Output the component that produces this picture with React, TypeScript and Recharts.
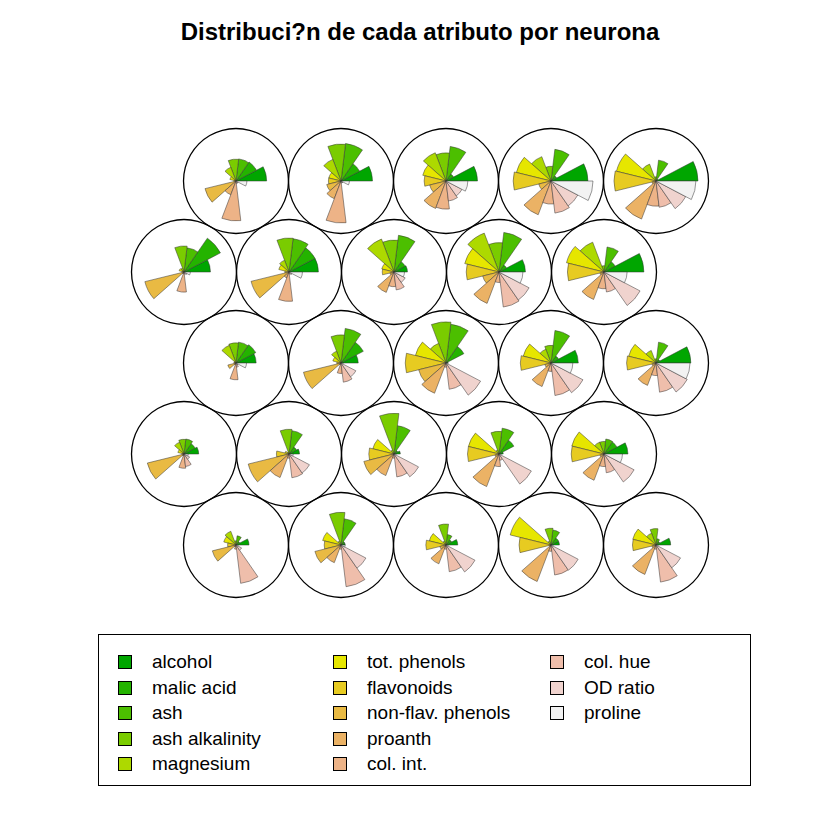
import { Pie, PieChart } from "recharts";

const attributes = [
  "alcohol", "malic acid", "ash", "ash alkalinity", "magnesium",
  "tot. phenols", "flavonoids", "non-flav. phenols", "proanth", "col. int.",
  "col. hue", "OD ratio", "proline",
];

// terrain.colors(13)
const colors = [
  "#00A600", "#24B300", "#4CBF00", "#7ACC00", "#ADD900",
  "#E6E600", "#E7CB21", "#E9BA43", "#EBB265", "#EDB387",
  "#EFBEAB", "#F0D3CE", "#F2F2F2",
];

// scaled codes (0..1) per neuron, rows top to bottom, left to right
const row1 = [
  [0.73, 0.55, 0.53, 0.52, 0.35, 0.15, 0.05, 0.76, 0.35, 0.95, 0.06, 0.06, 0.26],
  [0.75, 0.5, 0.9, 0.88, 0.55, 0.3, 0.3, 0.35, 0.45, 1.0, 0.05, 0.05, 0.2],
  [0.75, 0.2, 0.83, 0.67, 0.72, 0.57, 0.52, 0.4, 0.7, 0.67, 0.48, 0.43, 0.52],
  [0.88, 0.15, 0.76, 0.35, 0.62, 0.85, 0.9, 0.3, 0.86, 0.55, 0.77, 0.72, 1.0],
  [1.0, 0.05, 0.5, 0.1, 0.43, 0.97, 1.0, 0.1, 0.97, 0.6, 0.63, 0.8, 0.95],
];
const row2 = [
  [0.63, 0.98, 0.58, 0.62, 0.1, 0.12, 0.05, 0.96, 0.05, 0.48, 0.05, 0.08, 0.15],
  [0.7, 0.7, 0.8, 0.81, 0.3, 0.25, 0.1, 0.93, 0.15, 0.7, 0.05, 0.08, 0.32],
  [0.32, 0.3, 0.88, 0.76, 0.84, 0.3, 0.28, 0.1, 0.52, 0.35, 0.43, 0.3, 0.25],
  [0.63, 0.2, 0.95, 0.7, 0.99, 0.84, 0.78, 0.4, 0.8, 0.25, 0.84, 0.81, 0.57],
  [0.95, 0.3, 0.6, 0.15, 0.76, 0.92, 0.87, 0.1, 0.7, 0.4, 0.48, 0.97, 0.55],
];
const row3 = [
  [0.48, 0.53, 0.5, 0.48, 0.45, 0.05, 0.05, 0.2, 0.05, 0.4, 0.1, 0.05, 0.25],
  [0.41, 0.6, 0.83, 0.67, 0.3, 0.2, 0.1, 0.92, 0.05, 0.25, 0.46, 0.4, 0.05],
  [0.05, 0.48, 0.93, 0.98, 0.5, 0.75, 0.97, 0.67, 0.77, 0.1, 0.63, 0.93, 0.05],
  [0.65, 0.2, 0.78, 0.42, 0.35, 0.68, 0.73, 0.15, 0.6, 0.2, 0.78, 0.86, 0.52],
  [0.83, 0.1, 0.5, 0.1, 0.32, 0.67, 0.7, 0.1, 0.57, 0.3, 0.7, 0.84, 0.81],
];
const row4 = [
  [0.35, 0.3, 0.36, 0.35, 0.3, 0.15, 0.05, 0.9, 0.05, 0.34, 0.3, 0.15, 0.1],
  [0.25, 0.2, 0.56, 0.59, 0.05, 0.1, 0.3, 1.0, 0.6, 0.1, 0.57, 0.55, 0.1],
  [0.15, 0.1, 0.68, 0.97, 0.1, 0.52, 0.6, 0.74, 0.55, 0.1, 0.55, 0.66, 0.05],
  [0.1, 0.4, 0.62, 0.54, 0.1, 0.75, 0.75, 0.1, 0.83, 0.3, 0.15, 0.87, 0.05],
  [0.57, 0.35, 0.36, 0.3, 0.3, 0.79, 0.78, 0.1, 0.67, 0.3, 0.45, 0.81, 0.44],
];
const row5 = [
  [0.31, 0.1, 0.22, 0.1, 0.35, 0.3, 0.2, 0.58, 0.05, 0.1, 0.92, 0.15, 0.05],
  [0.1, 0.1, 0.63, 0.78, 0.1, 0.45, 0.4, 0.64, 0.45, 0.1, 1.0, 0.67, 0.1],
  [0.28, 0.15, 0.25, 0.5, 0.1, 0.41, 0.48, 0.15, 0.48, 0.1, 0.64, 0.78, 0.05],
  [0.2, 0.2, 0.36, 0.4, 0.1, 1.0, 0.76, 0.05, 0.93, 0.15, 0.72, 0.73, 0.05],
  [0.35, 0.1, 0.15, 0.39, 0.3, 0.57, 0.56, 0.1, 0.75, 0.1, 0.89, 0.66, 0.05],
];

const rows = [row1, row2, row3, row4, row5];

const FONT = '"Liberation Sans", Arial, Helvetica, sans-serif';
const UNIT = 105; // distance between neighbouring neurons
const CIRCLE_R = UNIT / 2;
const MAX_R = UNIT * 0.4;
const STEP = 360 / attributes.length;
const BOX = 112;

function Neuron({ values, cx, cy }: { values: number[]; cx: number; cy: number }) {
  return (
    <div style={{ position: "absolute", left: cx - BOX / 2, top: cy - BOX / 2 }}>
      <PieChart width={BOX} height={BOX} margin={{ top: 0, right: 0, bottom: 0, left: 0 }}>
        <Pie
          data={[{ name: "unit", value: 1 }]}
          dataKey="value"
          cx="50%"
          cy="50%"
          innerRadius={CIRCLE_R - 0.65}
          outerRadius={CIRCLE_R + 0.65}
          fill="#000"
          stroke="none"
          isAnimationActive={false}
        />
        {values.map((v, i) => (
          <Pie
            key={i}
            data={[{ name: attributes[i], value: 1 }]}
            dataKey="value"
            cx="50%"
            cy="50%"
            startAngle={i * STEP}
            endAngle={(i + 1) * STEP}
            innerRadius={0}
            outerRadius={v * MAX_R}
            fill={colors[i]}
            stroke="#333"
            strokeWidth={0.5}
            isAnimationActive={false}
          />
        ))}
      </PieChart>
    </div>
  );
}

function Legend() {
  const perCol = 5;
  const colX = [117, 332, 549];
  return (
    <div
      style={{
        position: "absolute",
        left: 98,
        top: 634,
        width: 653,
        height: 152,
        border: "1px solid #000",
        boxSizing: "border-box",
      }}
    >
      {attributes.map((name, i) => {
        const col = Math.floor(i / perCol);
        const row = i % perCol;
        const y = 661 + row * 25.5 - 634;
        const x = colX[col] - 98;
        return (
          <div key={name}>
            <div
              style={{
                position: "absolute",
                left: x,
                top: y - 7,
                width: 14,
                height: 14,
                background: colors[i],
                border: "1px solid #000",
                boxSizing: "border-box",
              }}
            />
            <div
              style={{
                position: "absolute",
                left: x + 34,
                top: y - 12,
                fontSize: 19,
                lineHeight: "24px",
                fontFamily: FONT,
                whiteSpace: "nowrap",
                color: "#000",
              }}
            >
              {name}
            </div>
          </div>
        );
      })}
    </div>
  );
}

export default function App() {
  return (
    <div
      style={{
        position: "absolute",
        left: 0,
        top: 0,
        width: 840,
        height: 840,
        background: "#fff",
        fontFamily: FONT,
      }}
    >
      <div
        style={{
          position: "absolute",
          left: 0,
          top: 17,
          width: 840,
          textAlign: "center",
          fontWeight: "bold",
          fontSize: 24,
          lineHeight: "30px",
        }}
      >
        Distribuci?n de cada atributo por neurona
      </div>
      {rows.map((row, r) =>
        row.map((values, c) => (
          <Neuron
            key={`${r}-${c}`}
            values={values}
            cx={(r % 2 === 0 ? 236 : 184) + c * UNIT}
            cy={181 + r * UNIT * (Math.sqrt(3) / 2)}
          />
        ))
      )}
      <Legend />
    </div>
  );
}
